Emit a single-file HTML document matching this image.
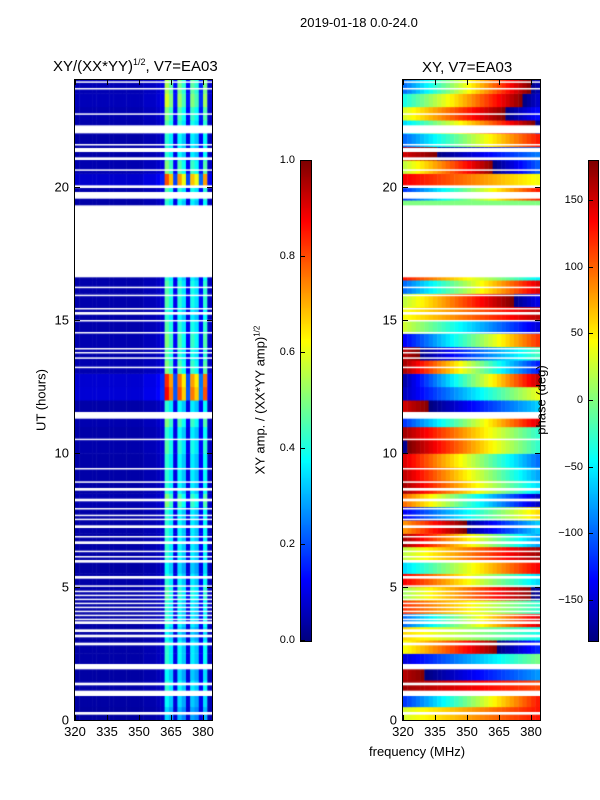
<!DOCTYPE html>
<html><head><meta charset="utf-8"><style>
body{margin:0;background:#fff;width:600px;height:800px;position:relative;overflow:hidden;font-family:"Liberation Sans","DejaVu Sans",sans-serif;color:#000}
.t{position:absolute;font-size:12px;white-space:nowrap}
canvas{position:absolute}
.frame{position:absolute;border:1px solid #000;box-sizing:border-box}
</style></head><body>
<div class="t" style="left:300px;top:15px;font-size:13px">2019-01-18 0.0-24.0</div>
<div class="t" style="left:53px;top:57px;font-size:15px">XY/(XX*YY)<sup style="font-size:9px">1/2</sup>, V7=EA03</div>
<div class="t" style="left:422px;top:59px;font-size:15px">XY, V7=EA03</div>
<canvas id="cl" width="137" height="640" style="left:75px;top:80px"></canvas>
<canvas id="cr" width="137" height="640" style="left:403px;top:80px"></canvas>
<div class="frame" style="left:74px;top:79px;width:139px;height:642px"></div>
<div class="frame" style="left:402px;top:79px;width:139px;height:642px"></div>
<canvas id="bl" width="10" height="480" style="left:300px;top:160px;border:1px solid #000"></canvas>
<canvas id="br" width="9" height="480" style="left:588px;top:160px;border:1px solid #000"></canvas>
<div class="t" style="left:41px;top:400px;transform:translate(-50%,-50%) rotate(-90deg);font-size:13px">UT (hours)</div>
<div class="t" style="left:260px;top:400px;transform:translate(-50%,-50%) rotate(-90deg);font-size:13px">XY amp. / (XX*YY amp)<sup style="font-size:8px">1/2</sup></div>
<div class="t" style="left:541px;top:400px;transform:translate(-50%,-50%) rotate(-90deg);font-size:13px">phase (deg)</div>
<div class="t" style="left:369px;top:744px;font-size:13px">frequency (MHz)</div>
<div id="lab"></div>
<script>
const freqTicks=[320,335,350,365,380];
const timeTicks=[0,5,10,15,20];
const ampTicks=[0.0,0.2,0.4,0.6,0.8,1.0];
const phaseTicks=[-150,-100,-50,0,50,100,150];
// amplitude column profile, 2 MHz bins from 320 to 384
const colProfile=[0.04,0.04,0.04,0.04,0.04,0.04,0.04,0.04,0.04,0.04,0.04,0.04,0.04,0.04,0.04,0.04,0.05,0.05,0.05,0.06,0.08,0.42,0.36,0.1,0.38,0.32,0.1,0.36,0.32,0.12,0.38,0.06];
// amplitude gain per 0.5 h row, 0..24 h
const rowGain=[0.8,0.9,1,0.9,1,1,0.9,1,1,1.1,1,0.9,1,1,1,1,1.2,1,1,1,1.1,1,1.2,1,2.1,2.0,1.2,1.1,1.2,1.1,1,1.1,1.1,1,1,1,1,1,1,1.1,1.9,1.2,1,1,1.1,1.2,1.4,1.3];
// phase per 0.5 h row: phase at 320 MHz and change across band (deg)
const rowPhase=[30,-120,170,160,-150,40,60,-100,120,10,140,-60,20,170,80,-140,100,170,160,150,-170,170,-120,150,-160,-170,170,160,-140,30,40,20,-100,130,0,0,0,0,0,-120,140,20,150,-100,-60,30,-40,-100];
const rowSlope=[100,250,-60,120,150,200,-100,250,-150,180,-200,200,150,-250,220,200,-260,-230,-240,-250,-220,-200,270,150,200,330,-300,180,260,-180,120,200,250,-180,0,0,0,0,0,250,-100,240,120,230,250,200,250,300];
// blank (flagged) time intervals in hours
const blanks=[[0.2,0.3],[0.9,1.1],[1.3,1.4],[1.9,2.1],[2.8,2.9],[3.1,3.2],[3.3,3.4],[3.6,3.7],[3.75,3.8],[3.9,3.95],[4.05,4.1],[4.2,4.25],[4.35,4.4],[4.5,4.55],[4.65,4.7],[4.8,4.85],[5.0,5.05],[5.3,5.4],[5.9,6.0],[6.1,6.15],[6.3,6.35],[6.6,6.7],[6.85,6.9],[7.2,7.3],[7.5,7.55],[7.65,7.7],[7.9,7.95],[8.2,8.3],[8.6,8.7],[8.9,8.95],[9.4,9.45],[10.5,10.55],[11.3,11.55],[13.2,13.25],[13.55,13.6],[13.75,13.8],[13.9,13.95],[14.5,14.55],[14.95,15.0],[15.2,15.3],[15.4,15.45],[15.9,15.95],[16.2,16.25],[16.6,19.3],[19.55,19.8],[19.95,20.05],[20.6,20.65],[21.0,21.1],[21.3,21.45],[21.55,21.6],[22.0,22.3],[22.7,22.75],[23.65,23.7],[23.9,23.95]];
const F0=320,F1=384.2,T0=0,T1=24;
const W=137,H=640;
const xs=f=>(f-F0)/(F1-F0)*W;
const ys=t=>H-(t-T0)/(T1-T0)*H;
function jet(v){v=Math.max(0,Math.min(1,v));const c=x=>Math.round(255*Math.max(0,Math.min(1,1.5-Math.abs(4*v-x))));return `rgb(${c(3)},${c(2)},${c(1)})`;}
const cl=document.getElementById('cl').getContext('2d');
const cr=document.getElementById('cr').getContext('2d');
for(let r=0;r<rowGain.length;r++){
  const t0=r*0.5,t1=t0+0.5;
  const y0=ys(t1),y1=ys(t0);
  for(let c=0;c<colProfile.length;c++){
    const f0=F0+c*2,f1=f0+2;
    const x0=xs(f0),x1=xs(f1);
    cl.fillStyle=jet(colProfile[c]*rowGain[r]);
    cl.fillRect(x0,y0,x1-x0+0.5,y1-y0+0.5);
    let p=rowPhase[r]+rowSlope[r]*((f0+1-F0)/64);
    p=((p+180)%360+360)%360-180;
    cr.fillStyle=jet((p+180)/360);
    cr.fillRect(x0,y0,x1-x0+0.5,y1-y0+0.5);
  }
}
[cl,cr].forEach(ctx=>{ctx.fillStyle='#fff';blanks.forEach(b=>{const y0=ys(b[1]),y1=ys(b[0]);ctx.fillRect(0,y0,W,Math.max(1.5,y1-y0));});});
['bl','br'].forEach(id=>{const cv=document.getElementById(id),g=cv.getContext('2d');for(let i=0;i<480;i++){g.fillStyle=jet(1-i/479);g.fillRect(0,i,cv.width,1);}});
const lab=document.getElementById('lab');
function add(name,html,css){const d=document.createElement('div');d.className='t';d.innerHTML=html;d.style.cssText=css;


lab.appendChild(d);}
function tick(name,x,y,w,h){const d=document.createElement('div');d.style.cssText=`position:absolute;left:${x}px;top:${y}px;width:${w}px;height:${h}px;background:#000`;


lab.appendChild(d);}
[75,403].forEach((ox,pi)=>{
  freqTicks.forEach(f=>{const x=ox+xs(f);add('x-tick-label','' +f,`left:${x}px;top:724px;transform:translateX(-50%);font-size:13px`);tick('x-tick',x,715,1,5);tick('x-tick',x,80,1,5);});
  timeTicks.forEach(t=>{const y=80+ys(t);add('y-tick-label',''+t,`left:${ox-6}px;top:${y}px;transform:translate(-100%,-50%);font-size:13px`);tick('y-tick',ox,y,5,1);tick('y-tick',ox+W-5,y,5,1);});
});
ampTicks.forEach(v=>{const y=160+480-v*480;add('amp-tick-label',v.toFixed(1),`left:295px;top:${y}px;transform:translate(-100%,-50%);font-size:11px`);tick('amp-tick',301,y,4,1);});
phaseTicks.forEach(v=>{const y=160+240-v/180*240;add('phase-tick-label',v<0?'\u2212'+(-v):''+v,`left:583px;top:${y}px;transform:translate(-100%,-50%);font-size:11px`);tick('phase-tick',589,y,4,1);});
</script>
</body></html>
